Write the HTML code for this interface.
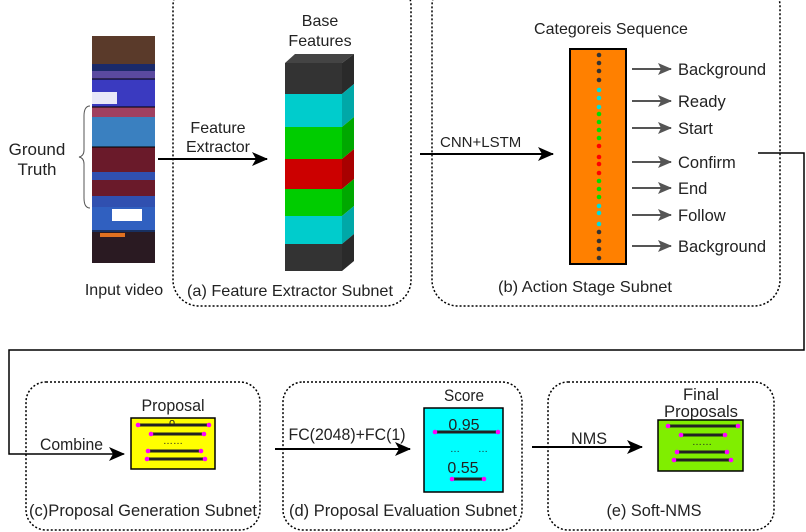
<!DOCTYPE html>
<html><head><style>
body{margin:0;background:#fff}
svg{display:block;font-family:"Liberation Sans",sans-serif}
</style></head><body>
<svg width="806" height="532" viewBox="0 0 806 532" xmlns="http://www.w3.org/2000/svg">
<defs>
<marker id="ah" markerWidth="16" markerHeight="14" refX="15" refY="7" orient="auto" markerUnits="userSpaceOnUse"><path d="M0,0 L16,7 L0,14 L4,7 Z" fill="#000"/></marker>
<marker id="ahg" markerWidth="14" markerHeight="12" refX="13" refY="6" orient="auto" markerUnits="userSpaceOnUse"><path d="M0,0 L14,6 L0,12 L3,6 Z" fill="#555"/></marker>
</defs>
<g fill="none" stroke="#000" stroke-width="1.5" stroke-dasharray="2,2">
<rect x="173" y="-20" width="238" height="326" rx="26"/>
<rect x="432" y="-20" width="348" height="326" rx="26"/>
<rect x="26" y="382" width="234" height="148" rx="20"/>
<rect x="283" y="382" width="239" height="148" rx="20"/>
<rect x="548" y="382" width="226" height="148" rx="20"/>
</g>
<g>
<rect x="92" y="36" width="63" height="227" fill="#1a1a2a"/>
<rect x="92" y="36" width="63" height="28" fill="#5a3a2a"/>
<rect x="92" y="64" width="63" height="7" fill="#1a2a6a"/>
<rect x="92" y="71" width="63" height="8" fill="#5a4aa0"/>
<rect x="92" y="79" width="63" height="28" fill="#3a3ac0"/>
<rect x="92" y="92" width="25" height="12" fill="#e8e8f8"/>
<rect x="92" y="107" width="63" height="40" fill="#3a80c0"/>
<rect x="92" y="107" width="63" height="10" fill="#a04060"/>
<rect x="92" y="147" width="63" height="60" fill="#6a1a2a"/>
<rect x="92" y="172" width="63" height="8" fill="#3050b0"/>
<rect x="92" y="196" width="63" height="11" fill="#3050b0"/>
<rect x="92" y="207" width="63" height="25" fill="#3060c0"/>
<rect x="112" y="209" width="30" height="12" fill="#fff"/>
<rect x="92" y="232" width="63" height="31" fill="#2a1a22"/>
<rect x="100" y="233" width="25" height="4" fill="#e07020"/>
<g stroke="#000" stroke-width="1"><line x1="92" y1="79" x2="155" y2="79"/><line x1="92" y1="107" x2="155" y2="107"/><line x1="92" y1="147" x2="155" y2="147"/><line x1="92" y1="231" x2="155" y2="231"/></g>
</g>
<path d="M90,106 Q84,106 84,116 L84,150 Q84,156 79,157 Q84,158 84,164 L84,198 Q84,208 90,208" fill="none" stroke="#555" stroke-width="1"/>
<text x="37" y="155" font-size="17" text-anchor="middle" fill="#222">Ground</text>
<text x="37" y="175" font-size="17" text-anchor="middle" fill="#222">Truth</text>
<text x="124" y="295" font-size="16" text-anchor="middle" fill="#222">Input video</text>
<line x1="158" y1="159" x2="267" y2="159" stroke="#000" stroke-width="2" marker-end="url(#ah)"/>
<text x="218" y="133" font-size="16" text-anchor="middle" fill="#222">Feature</text>
<text x="218" y="152" font-size="16" text-anchor="middle" fill="#222">Extractor</text>
<text x="320" y="26" font-size="16" text-anchor="middle" fill="#222">Base</text>
<text x="320" y="46" font-size="16" text-anchor="middle" fill="#222">Features</text>
<polygon points="285,63 295,54 354,54 342,63" fill="#444"/>
<rect x="285" y="63" width="57" height="31" fill="#333"/>
<rect x="285" y="94" width="57" height="33" fill="#00cccc"/>
<rect x="285" y="127" width="57" height="32" fill="#00cc00"/>
<rect x="285" y="159" width="57" height="30" fill="#cc0000"/>
<rect x="285" y="189" width="57" height="27" fill="#00cc00"/>
<rect x="285" y="216" width="57" height="28" fill="#00cccc"/>
<rect x="285" y="244" width="57" height="27" fill="#333"/>
<polygon points="342,63 354,54 354,84 342,94" fill="#2a2a2a"/>
<polygon points="342,94 354,84 354,117 342,127" fill="#00a8a8"/>
<polygon points="342,127 354,117 354,149 342,159" fill="#00a800"/>
<polygon points="342,159 354,149 354,179 342,189" fill="#a80000"/>
<polygon points="342,189 354,179 354,206 342,216" fill="#00a800"/>
<polygon points="342,216 354,206 354,234 342,244" fill="#00a8a8"/>
<polygon points="342,244 354,234 354,261 342,271" fill="#2a2a2a"/>
<text x="290" y="296" font-size="16" text-anchor="middle" fill="#222" textLength="206" lengthAdjust="spacingAndGlyphs">(a) Feature Extractor Subnet</text>
<text x="611" y="34" font-size="16" text-anchor="middle" fill="#222">Categoreis Sequence</text>
<line x1="420" y1="154" x2="553" y2="154" stroke="#000" stroke-width="2" marker-end="url(#ah)"/>
<text x="440" y="147" font-size="15" fill="#222">CNN+LSTM</text>
<rect x="570" y="49" width="56" height="215" fill="#ff8000" stroke="#000" stroke-width="2"/>
<g fill="#333">
<circle cx="599" cy="55" r="2.3"/><circle cx="599" cy="63" r="2.3"/><circle cx="599" cy="71" r="2.3"/><circle cx="599" cy="80" r="2.3"/>
</g>
<g fill="#00dddd"><circle cx="599" cy="90" r="2.3"/><circle cx="599" cy="98" r="2.3"/><circle cx="599" cy="107" r="2.3"/></g>
<g fill="#00dd00"><circle cx="599" cy="114" r="2.3"/><circle cx="599" cy="122" r="2.3"/><circle cx="599" cy="130" r="2.3"/><circle cx="599" cy="138" r="2.3"/></g>
<g fill="#ff0000"><circle cx="599" cy="146" r="2.3"/><circle cx="599" cy="157" r="2.3"/><circle cx="599" cy="164" r="2.3"/><circle cx="599" cy="173" r="2.3"/></g>
<g fill="#00dd00"><circle cx="599" cy="181" r="2.3"/><circle cx="599" cy="189" r="2.3"/><circle cx="599" cy="197" r="2.3"/></g>
<g fill="#00dddd"><circle cx="599" cy="206" r="2.3"/><circle cx="599" cy="213" r="2.3"/><circle cx="599" cy="224" r="2.3"/></g>
<g fill="#333"><circle cx="599" cy="232" r="2.3"/><circle cx="599" cy="241" r="2.3"/><circle cx="599" cy="249" r="2.3"/><circle cx="599" cy="258" r="2.3"/></g>
<g stroke="#555" stroke-width="2">
<line x1="632" y1="69" x2="671" y2="69" marker-end="url(#ahg)"/>
<line x1="632" y1="101" x2="671" y2="101" marker-end="url(#ahg)"/>
<line x1="632" y1="128" x2="671" y2="128" marker-end="url(#ahg)"/>
<line x1="632" y1="162" x2="671" y2="162" marker-end="url(#ahg)"/>
<line x1="632" y1="188" x2="671" y2="188" marker-end="url(#ahg)"/>
<line x1="632" y1="215" x2="671" y2="215" marker-end="url(#ahg)"/>
<line x1="632" y1="246" x2="671" y2="246" marker-end="url(#ahg)"/>
</g>
<g font-size="16.5" fill="#222">
<text x="678" y="75">Background</text>
<text x="678" y="107">Ready</text>
<text x="678" y="134">Start</text>
<text x="678" y="168">Confirm</text>
<text x="678" y="194">End</text>
<text x="678" y="221">Follow</text>
<text x="678" y="252">Background</text>
</g>
<text x="585" y="292" font-size="16" text-anchor="middle" fill="#222" textLength="174" lengthAdjust="spacingAndGlyphs">(b) Action Stage Subnet</text>
<polyline points="758,153 804,153 804,350 9,350 9,454 124,454" fill="none" stroke="#000" stroke-width="1.5" marker-end="url(#ah)"/>
<text x="40" y="450" font-size="17" fill="#222" textLength="63" lengthAdjust="spacingAndGlyphs">Combine</text>
<text x="173" y="411" font-size="17" text-anchor="middle" fill="#222" textLength="63" lengthAdjust="spacingAndGlyphs">Proposal</text>
<rect x="131" y="418" width="84" height="51" fill="#ffff00" stroke="#000" stroke-width="1.5"/>
<g stroke="#222" stroke-width="3">
<line x1="138" y1="425" x2="209" y2="425"/><line x1="151" y1="434" x2="204" y2="434"/>
<line x1="148" y1="451" x2="201" y2="451"/><line x1="147" y1="459" x2="205" y2="459"/></g>
<g fill="#f0f"><circle cx="138" cy="425" r="2.3"/><circle cx="209" cy="425" r="2.3"/><circle cx="151" cy="434" r="2.3"/><circle cx="204" cy="434" r="2.3"/><circle cx="148" cy="451" r="2.3"/><circle cx="201" cy="451" r="2.3"/><circle cx="147" cy="459" r="2.3"/><circle cx="205" cy="459" r="2.3"/></g>
<text x="173" y="444" font-size="10" text-anchor="middle" fill="#222">……</text>
<text x="172" y="426" font-size="11" text-anchor="middle" fill="#222">o</text>
<text x="143" y="516" font-size="17" text-anchor="middle" fill="#222" textLength="228" lengthAdjust="spacingAndGlyphs">(c)Proposal Generation Subnet</text>
<line x1="275" y1="449" x2="410" y2="449" stroke="#000" stroke-width="2" marker-end="url(#ah)"/>
<text x="347" y="440" font-size="17" text-anchor="middle" fill="#222" textLength="117" lengthAdjust="spacingAndGlyphs">FC(2048)+FC(1)</text>
<text x="464" y="401" font-size="17" text-anchor="middle" fill="#222" textLength="40" lengthAdjust="spacingAndGlyphs">Score</text>
<rect x="424" y="408" width="79" height="84" fill="#00ffff" stroke="#000" stroke-width="1.5"/>
<text x="464" y="430" font-size="16" text-anchor="middle" fill="#222">0.95</text>
<line x1="435" y1="432" x2="498" y2="432" stroke="#222" stroke-width="3"/>
<circle cx="435" cy="432" r="2.3" fill="#f0f"/><circle cx="498" cy="432" r="2.3" fill="#f0f"/>
<text x="450" y="452" font-size="10" fill="#222">…</text><text x="478" y="452" font-size="10" fill="#222">…</text>
<text x="463" y="473" font-size="16" text-anchor="middle" fill="#222">0.55</text>
<line x1="452" y1="479" x2="484" y2="479" stroke="#222" stroke-width="3"/>
<circle cx="452" cy="479" r="2.3" fill="#f0f"/><circle cx="484" cy="479" r="2.3" fill="#f0f"/>
<text x="403" y="516" font-size="17" text-anchor="middle" fill="#222" textLength="228" lengthAdjust="spacingAndGlyphs">(d) Proposal Evaluation Subnet</text>
<line x1="532" y1="447" x2="642" y2="447" stroke="#000" stroke-width="2" marker-end="url(#ah)"/>
<text x="589" y="444" font-size="17" text-anchor="middle" fill="#222" textLength="36" lengthAdjust="spacingAndGlyphs">NMS</text>
<text x="701" y="400" font-size="17" text-anchor="middle" fill="#222" textLength="36" lengthAdjust="spacingAndGlyphs">Final</text>
<text x="701" y="417" font-size="17" text-anchor="middle" fill="#222" textLength="74" lengthAdjust="spacingAndGlyphs">Proposals</text>
<rect x="658" y="420" width="85" height="51" fill="#80ee00" stroke="#000" stroke-width="1.5"/>
<g stroke="#222" stroke-width="3">
<line x1="668" y1="426" x2="738" y2="426"/><line x1="681" y1="435" x2="725" y2="435"/>
<line x1="677" y1="452" x2="727" y2="452"/><line x1="674" y1="460" x2="731" y2="460"/></g>
<g fill="#f0f"><circle cx="668" cy="426" r="2.3"/><circle cx="738" cy="426" r="2.3"/><circle cx="681" cy="435" r="2.3"/><circle cx="725" cy="435" r="2.3"/><circle cx="677" cy="452" r="2.3"/><circle cx="727" cy="452" r="2.3"/><circle cx="674" cy="460" r="2.3"/><circle cx="731" cy="460" r="2.3"/></g>
<text x="702" y="445" font-size="10" text-anchor="middle" fill="#222">……</text>
<text x="654" y="516" font-size="17" text-anchor="middle" fill="#222" textLength="95" lengthAdjust="spacingAndGlyphs">(e) Soft-NMS</text>
</svg>
</body></html>
